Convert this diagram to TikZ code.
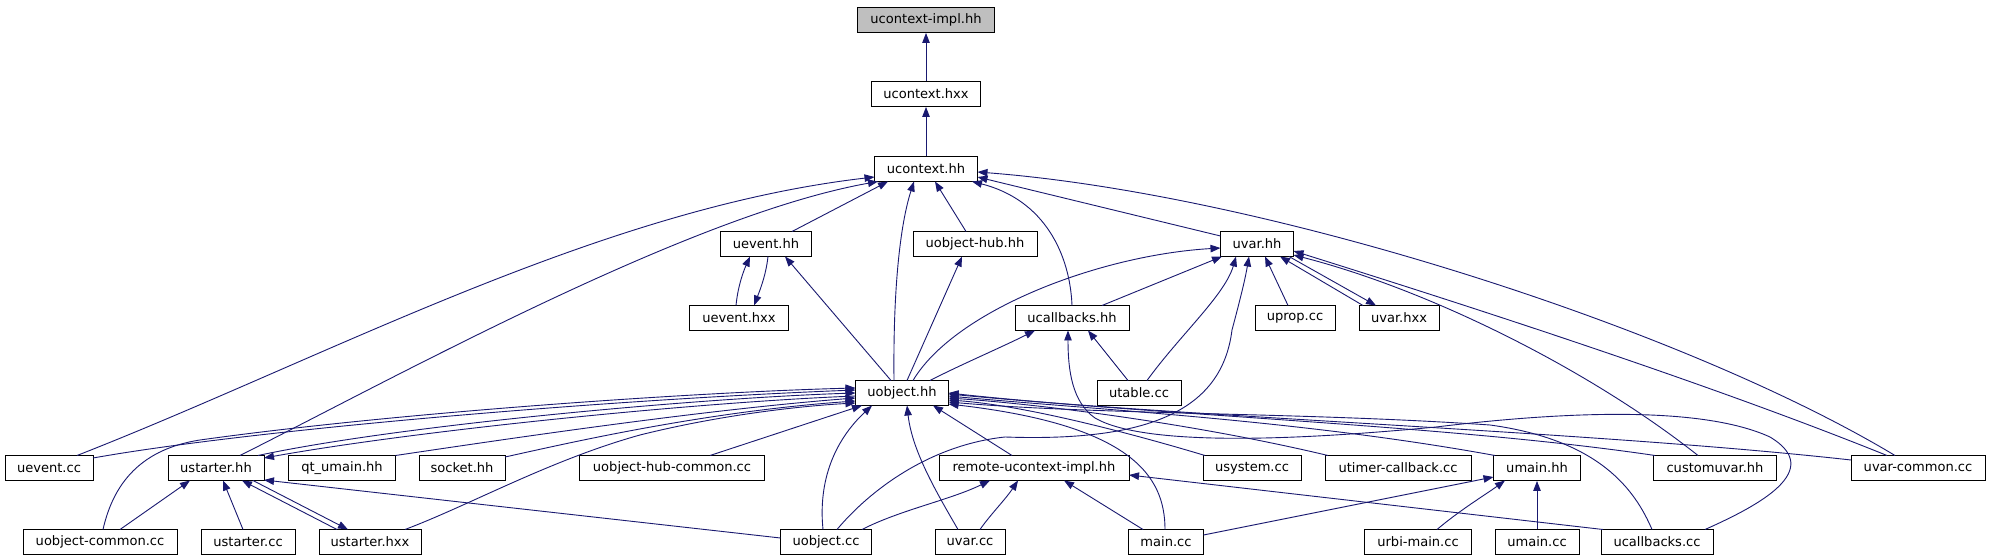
\documentclass[tikz,border=0pt]{standalone}
\usepackage{fontspec}
\setmainfont{DejaVu Sans}
\usetikzlibrary{arrows.meta}
\definecolor{edgec}{HTML}{191970}
\begin{document}
\begin{tikzpicture}[x=1bp,y=-1bp,
  box/.style={draw=black, line width=0.9bp, rectangle, inner sep=0pt, minimum height=25bp, font=\fontsize{13.1}{15}\selectfont},
  e/.style={draw=edgec, line width=0.9bp, -{Triangle[length=10bp,width=7.5bp]}}]
\fill[white] (0,0) rectangle (1989,560);
\useasboundingbox (0,0) rectangle (1989,560);
% row 0-5
\node[box, minimum width=137bp, fill=black!25] (impl) at (926,20) {ucontext-impl.hh};
\node[box, minimum width=109bp] (uctxhxx) at (926,94) {ucontext.hxx};
\node[box, minimum width=103bp] (uctxhh) at (926,169) {ucontext.hh};
\node[box, minimum width=91bp] (ueventhh) at (766,244) {uevent.hh};
\node[box, minimum width=124bp] (uobjhubhh) at (975,244) {uobject-hub.hh};
\node[box, minimum width=73bp] (uvarhh) at (1257,244) {uvar.hh};
\node[box, minimum width=99bp] (ueventhxx) at (739,318) {uevent.hxx};
\node[box, minimum width=114bp] (ucbhh) at (1072,318) {ucallbacks.hh};
\node[box, minimum width=80bp] (upropcc) at (1295,318) {uprop.cc};
\node[box, minimum width=80bp] (uvarhxx) at (1399,318) {uvar.hxx};
\node[box, minimum width=93bp] (uobjhh) at (902,393) {uobject.hh};
\node[box, minimum width=84bp] (utablecc) at (1139,393) {utable.cc};
% row 6
\node[box, minimum width=88bp] (ueventcc) at (49,468) {uevent.cc};
\node[box, minimum width=96bp] (ustarterhh) at (216,468) {ustarter.hh};
\node[box, minimum width=107bp] (qtumain) at (342,468) {qt\_umain.hh};
\node[box, minimum width=86bp] (sockethh) at (462,468) {socket.hh};
\node[box, minimum width=185bp] (uobjhubcommon) at (672,468) {uobject-hub-common.cc};
\node[box, minimum width=190bp] (remote) at (1034,468) {remote-ucontext-impl.hh};
\node[box, minimum width=98bp] (usystemcc) at (1252,468) {usystem.cc};
\node[box, minimum width=146bp] (utimer) at (1398,468) {utimer-callback.cc};
\node[box, minimum width=87bp] (umainhh) at (1537,468) {umain.hh};
\node[box, minimum width=123bp] (customuvar) at (1715,468) {customuvar.hh};
\node[box, minimum width=134bp] (uvarcommon) at (1918,468) {uvar-common.cc};
% row 7
\node[box, minimum width=154bp] (uobjcommon) at (100,542) {uobject-common.cc};
\node[box, minimum width=94bp] (ustartercc) at (248,542) {ustarter.cc};
\node[box, minimum width=102bp] (ustarterhxx) at (370,542) {ustarter.hxx};
\node[box, minimum width=91bp] (uobjcc) at (826,542) {uobject.cc};
\node[box, minimum width=70bp] (uvarcc) at (970,542) {uvar.cc};
\node[box, minimum width=75bp] (maincc) at (1166,542) {main.cc};
\node[box, minimum width=107bp] (urbimain) at (1418,542) {urbi-main.cc};
\node[box, minimum width=84bp] (umaincc) at (1537,542) {umain.cc};
\node[box, minimum width=112bp] (ucbcc) at (1657,542) {ucallbacks.cc};

% edges into ucontext-impl / ucontext.hxx
\draw[e] (uctxhxx) -- (impl);
\draw[e] (uctxhh) -- (uctxhxx);
% into ucontext.hh
\draw[e] ([shift={(28,-12.5)}]ueventcc.center) .. controls (326,358) and (598,209) .. ([shift={(-51.5,8)}]uctxhh.center);
\draw[e] ([shift={(24,-12.5)}]ustarterhh.center) .. controls (400,375) and (690,215) .. ([shift={(-48,12.5)}]uctxhh.center);
\draw[e] ([shift={(26,-12.5)}]ueventhh.center) -- ([shift={(-38,12.5)}]uctxhh.center);
\draw[e] ([shift={(-8,-12.5)}]uobjhh.center) .. controls (893,290) and (900,225) .. ([shift={(-12,12.5)}]uctxhh.center);
\draw[e] ([shift={(-9,-12.5)}]uobjhubhh.center) -- ([shift={(9,12.5)}]uctxhh.center);
\draw[e] ([shift={(0,-12.5)}]ucbhh.center) .. controls (1070,255) and (1045,200) .. ([shift={(46,12.5)}]uctxhh.center);
\draw[e] ([shift={(-36.5,-8)}]uvarhh.center) -- ([shift={(51.5,8)}]uctxhh.center);
\draw[e] ([shift={(-23,-12.5)}]uvarcommon.center) .. controls (1683,328) and (1265,194) .. ([shift={(51.5,3)}]uctxhh.center);
% uevent.hh
\draw[e] ([shift={(-3,-12.5)}]ueventhxx.center) .. controls (738,285) and (744,270) .. ([shift={(-16,12.5)}]ueventhh.center);
\draw[e] ([shift={(2,12.5)}]ueventhh.center) .. controls (766,275) and (760,290) .. ([shift={(15,-12.5)}]ueventhxx.center);
\draw[e] ([shift={(-11,-12.5)}]uobjhh.center) -- ([shift={(19,12.5)}]ueventhh.center);
% uobject-hub.hh
\draw[e] ([shift={(5,-12.5)}]uobjhh.center) -- ([shift={(-13,12.5)}]uobjhubhh.center);
% uvar.hh
\draw[e] ([shift={(11,-12.5)}]uobjhh.center) .. controls (955,310) and (1100,255) .. ([shift={(-36.5,4)}]uvarhh.center);
\draw[e] ([shift={(30,-12.5)}]ucbhh.center) -- ([shift={(-35,12.5)}]uvarhh.center);
\draw[e] ([shift={(8,-12.5)}]utablecc.center) .. controls (1180,335) and (1225,295) .. ([shift={(-21,12.5)}]uvarhh.center);
\draw[e] ([shift={(11,-12.5)}]uobjcc.center) .. controls (870,490) and (930,445) .. (1005,437) .. controls (1150,442) and (1222,410) .. (1232,330) .. controls (1240,300) and (1245,280) .. ([shift={(-8,12.5)}]uvarhh.center);
\draw[e] ([shift={(-7,-12.5)}]upropcc.center) -- ([shift={(8,12.5)}]uvarhh.center);
\draw[e] ([shift={(-36,-12.5)}]uvarhxx.center) -- ([shift={(23,12.5)}]uvarhh.center);
\draw[e] ([shift={(32,12.5)}]uvarhh.center) -- ([shift={(-23,-12.5)}]uvarhxx.center);
\draw[e] ([shift={(-17,-12.5)}]customuvar.center) .. controls (1590,370) and (1430,290) .. ([shift={(36.5,11)}]uvarhh.center);
\draw[e] ([shift={(-31,-12.5)}]uvarcommon.center) .. controls (1700,380) and (1450,300) .. ([shift={(36.5,7)}]uvarhh.center);
% ucallbacks.hh
\draw[e] ([shift={(28,-12.5)}]uobjhh.center) .. controls (960,365) and (1000,348) .. ([shift={(-37,12.5)}]ucbhh.center);
\draw[e] ([shift={(-11,-12.5)}]utablecc.center) -- ([shift={(16,12.5)}]ucbhh.center);
\draw[e] ([shift={(48,-12.5)}]ucbcc.center) .. controls (1760,505) and (1825,470) .. (1770,437) .. controls (1700,405) and (1560,412) .. (1436,427) .. controls (1330,437) and (1150,450) .. (1095,418) .. controls (1072,402) and (1068,370) .. ([shift={(-4,12.5)}]ucbhh.center);
% uobject.hh from the left
\draw[e] ([shift={(44,-10)}]ueventcc.center) .. controls (250,430) and (600,400) .. ([shift={(-46.5,-3)}]uobjhh.center);
\draw[e] ([shift={(3,-12.5)}]uobjcommon.center) .. controls (112,490) and (135,450) .. (200,440) .. controls (400,412) and (700,392) .. ([shift={(-46.5,-5)}]uobjhh.center);
\draw[e] ([shift={(42,-12.5)}]ustarterhh.center) .. controls (400,425) and (700,398) .. ([shift={(-46.5,0)}]uobjhh.center);
\draw[e] ([shift={(-46.5,3)}]uobjhh.center) .. controls (700,402) and (420,430) .. ([shift={(48,-10)}]ustarterhh.center);
\draw[e] ([shift={(53.5,-12.5)}]qtumain.center) .. controls (500,440) and (700,410) .. ([shift={(-46.5,5)}]uobjhh.center);
\draw[e] ([shift={(43,-11)}]sockethh.center) .. controls (560,445) and (700,412) .. ([shift={(-46.5,8)}]uobjhh.center);
\draw[e] ([shift={(35,-12.5)}]ustarterhxx.center) .. controls (470,505) and (550,460) .. (640,435) .. controls (720,415) and (800,406) .. ([shift={(-46.5,10)}]uobjhh.center);
\draw[e] ([shift={(38,-12.5)}]uobjhubcommon.center) -- ([shift={(-40,12.5)}]uobjhh.center);
% uobject.hh from below
\draw[e] ([shift={(-3,-12.5)}]uobjcc.center) .. controls (818,480) and (835,440) .. ([shift={(-30,12.5)}]uobjhh.center);
\draw[e] ([shift={(-12,-12.5)}]uvarcc.center) .. controls (935,490) and (912,450) .. ([shift={(5,12.5)}]uobjhh.center);
\draw[e] ([shift={(-22,-12.5)}]remote.center) -- ([shift={(31,12.5)}]uobjhh.center);
% uobject.hh from the right
\draw[e] ([shift={(-47,-12.5)}]usystemcc.center) .. controls (1120,430) and (1020,405) .. ([shift={(46.5,7)}]uobjhh.center);
\draw[e] ([shift={(-70,-12.5)}]utimer.center) .. controls (1200,425) and (1050,405) .. ([shift={(46.5,5)}]uobjhh.center);
\draw[e] ([shift={(-42,-12.5)}]umainhh.center) .. controls (1300,420) and (1100,410) .. ([shift={(46.5,3)}]uobjhh.center);
\draw[e] ([shift={(-60,-12.5)}]customuvar.center) .. controls (1450,425) and (1150,415) .. ([shift={(46.5,0)}]uobjhh.center);
\draw[e] ([shift={(-67,-8)}]uvarcommon.center) .. controls (1600,432) and (1200,418) .. ([shift={(46.5,1)}]uobjhh.center);
\draw[e] ([shift={(-5,-12.5)}]ucbcc.center) .. controls (1635,490) and (1600,440) .. (1490,425) .. controls (1300,412) and (1100,415) .. ([shift={(46.5,9)}]uobjhh.center);
\draw[e] ([shift={(-1,-12.5)}]maincc.center) .. controls (1165,475) and (1130,425) .. ([shift={(46.5,11)}]uobjhh.center);
% remote-ucontext-impl.hh
\draw[e] ([shift={(36,-12.5)}]uobjcc.center) .. controls (900,510) and (950,500) .. ([shift={(-44,12.5)}]remote.center);
\draw[e] ([shift={(10,-12.5)}]uvarcc.center) .. controls (990,515) and (1005,500) .. ([shift={(-16,12.5)}]remote.center);
\draw[e] ([shift={(-23,-12.5)}]maincc.center) -- ([shift={(30,12.5)}]remote.center);
\draw[e] ([shift={(-54,-12.5)}]ucbcc.center) -- ([shift={(95,7)}]remote.center);
% umain.hh
\draw[e] ([shift={(37.5,-7)}]maincc.center) -- ([shift={(-43.5,9)}]umainhh.center);
\draw[e] ([shift={(19,-12.5)}]urbimain.center) .. controls (1460,510) and (1485,495) .. ([shift={(-32,12.5)}]umainhh.center);
\draw[e] (umaincc) -- (umainhh);
% ustarter.hh
\draw[e] ([shift={(20,-12.5)}]uobjcommon.center) -- ([shift={(-26,12.5)}]ustarterhh.center);
\draw[e] ([shift={(-5,-12.5)}]ustartercc.center) -- ([shift={(7,12.5)}]ustarterhh.center);
\draw[e] ([shift={(-33,-12.5)}]ustarterhxx.center) -- ([shift={(26,12.5)}]ustarterhh.center);
\draw[e] ([shift={(37,12.5)}]ustarterhh.center) -- ([shift={(-22,-12.5)}]ustarterhxx.center);
\draw[e] ([shift={(-45.5,-4)}]uobjcc.center) -- ([shift={(48,12)}]ustarterhh.center);
\end{tikzpicture}
\end{document}
